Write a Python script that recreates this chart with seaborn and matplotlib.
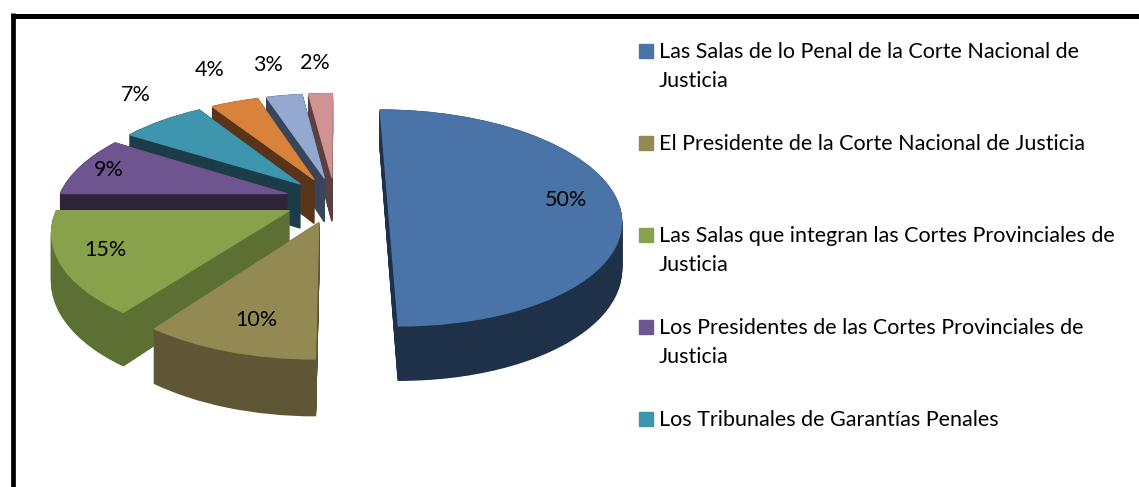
import matplotlib
matplotlib.use("Agg")
import matplotlib.pyplot as plt
import seaborn as sns
import numpy as np
from matplotlib.patches import Rectangle
from matplotlib.lines import Line2D
from matplotlib.transforms import Transform

# ---- data ----
legend_labels = [
    "Las Salas de lo Penal de la Corte Nacional de\nJusticia",
    "El Presidente de la Corte Nacional de Justicia",
    "Las Salas que integran las Cortes Provinciales de\nJusticia",
    "Los Presidentes de las Cortes Provinciales de\nJusticia",
    "Los Tribunales de Garantías Penales",
]
values = [50, 10, 15, 9, 7, 4, 3, 2]
pct_labels = [f"{v}%" for v in values]
top_colors = ["#4A74A8", "#938953", "#87A24B", "#6F5590",
              "#3E95AE", "#D9823C", "#93A9CF", "#D09392"]
side_colors = ["#1F3049", "#5E5634", "#5C7034", "#2E2338",
               "#1B3C48", "#5A3418", "#38455A", "#5A4040"]

sns.set_theme(style="white")
plt.rcParams["font.family"] = ["Lato", "DejaVu Sans"]
FS = 15.5


class Perspective(Transform):
    """Tilted-plane perspective: nearer (lower) parts drawn larger."""
    input_dims = 2
    output_dims = 2
    is_separable = False
    has_inverse = False

    def __init__(self, dz=0.0, k=0.167):
        super().__init__()
        self.dz = dz
        self.k = k

    def transform_non_affine(self, values):
        v = np.asarray(values, dtype=float)
        x, y = v[:, 0], v[:, 1]
        s = 1.0 / (1.0 + self.k * y)
        return np.column_stack([x * s, (y - self.dz) * s])


W, H = 1139, 487
fig = plt.figure(figsize=(W / 100, H / 100), dpi=100)
ax = fig.add_axes([0, 0, 1, 1])

cx_px, cy_px, rx_px, ry_px = 335, 200, 229, 105
explode = [0.23, 0.22, 0.22, 0.22, 0.22, 0.22, 0.22, 0.22]
depth = 0.43
rank = {7: 0, 6: 1, 5: 2, 4: 3, 3: 4, 0: 5, 2: 6, 1: 7}
# label placement (radius from wedge centre, angle shift in degrees)
lab_r = [0.78, 0.78, 0.81, 0.86, 1.37, 1.49, 1.46, 1.45]
lab_da = [0.0, 1.5, -2.0, 0.0, -4.5, -1.6, 0.3, 0.3]

for dz in np.linspace(depth, 0.0, 45):
    wedges, _ = ax.pie(values, explode=explode, colors=side_colors,
                       startangle=90, counterclock=False,
                       wedgeprops=dict(linewidth=1.0))
    tr = Perspective(dz) + ax.transData
    for i, w in enumerate(wedges):
        w.set_transform(tr)
        w.set_edgecolor(side_colors[i])
        w.set_zorder(1 + rank[i] * 0.1)

wedges, _ = ax.pie(values, explode=explode, colors=top_colors,
                   startangle=90, counterclock=False,
                   wedgeprops=dict(linewidth=0.8))
top_tr = Perspective(0.0) + ax.transData
for i, w in enumerate(wedges):
    w.set_transform(top_tr)
    w.set_edgecolor(top_colors[i])
    w.set_zorder(3)
    a = np.deg2rad((w.theta1 + w.theta2) / 2 + lab_da[i])
    wx, wy = w.center
    r = lab_r[i]
    ax.text(wx + r * np.cos(a), wy + r * np.sin(a), pct_labels[i],
            transform=top_tr, ha="center", va="center", fontsize=FS,
            color="black", zorder=10)

ax.set_xlim(-cx_px / rx_px, (W - cx_px) / rx_px)
ax.set_ylim((cy_px - H) / ry_px, cy_px / ry_px)
ax.set_aspect("auto")
ax.axis("off")

# ---- legend ----
for j, lab in enumerate(legend_labels):
    base = 58 + j * 91.9
    fig.add_artist(Rectangle((639 / W, 1 - base / H), 14 / W, 14 / H,
                             transform=fig.transFigure, color=top_colors[j]))
    for li, line in enumerate(lab.split("\n")):
        fig.text(659 / W, 1 - (base + li * 29) / H, line, va="baseline",
                 ha="left", fontsize=FS, color="black")

# ---- border ----
fig.add_artist(Line2D([11 / W, 1], [1 - 15.5 / H, 1 - 15.5 / H],
                      transform=fig.transFigure, color="black", linewidth=3.6,
                      solid_capstyle="butt"))
fig.add_artist(Line2D([13 / W, 13 / W], [1 - 13 / H, 0],
                      transform=fig.transFigure, color="black", linewidth=3.4,
                      solid_capstyle="butt"))

fig.savefig("out.png", dpi=100)
